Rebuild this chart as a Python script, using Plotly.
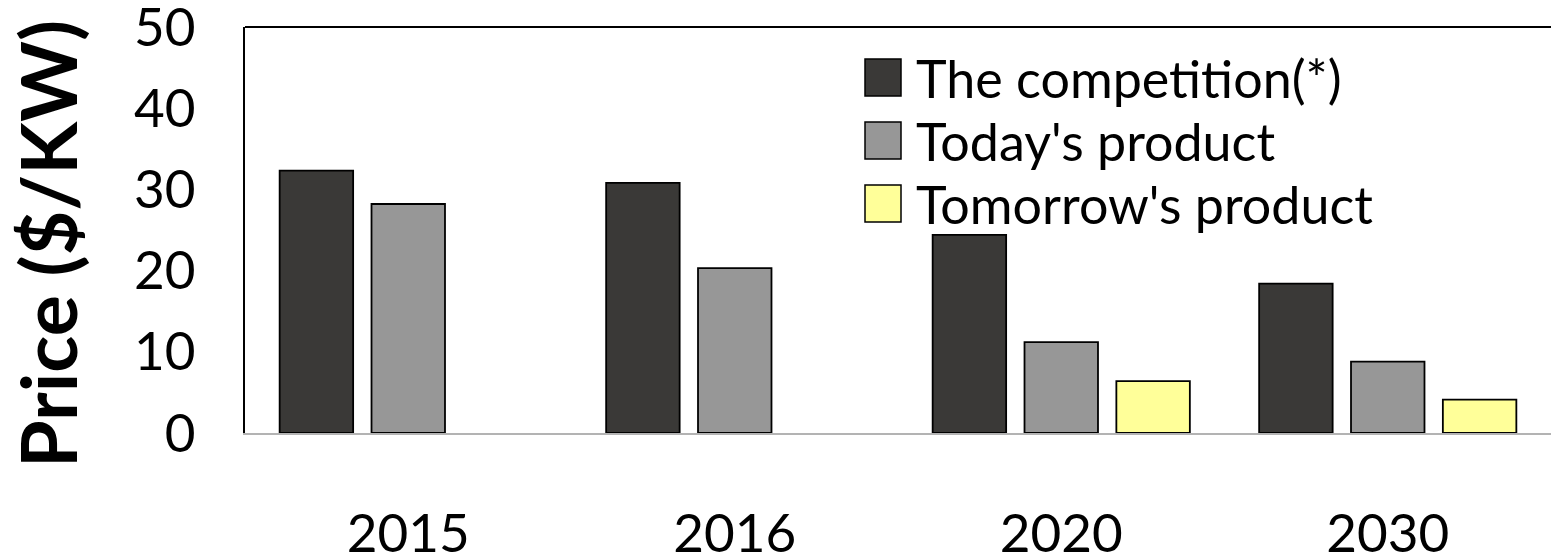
import plotly.graph_objects as go

years = ["2015", "2016", "2020", "2030"]
series_names = ["The competition(*)", "Today's product", "Tomorrow's product"]
competition = [32.3, 30.8, 24.4, 18.4]
today = [28.2, 20.3, 11.2, 8.8]
tomorrow = [None, None, 6.4, 4.1]
colors = ["#3a3937", "#979797", "#ffff99"]
y_ticks = [0, 10, 20, 30, 40, 50]

W, H = 1551, 557
ML, MR, MT, MB = 245, 0, 27, 124
PW, PH = W - ML - MR, H - MT - MB
FONT = "Lato"

def px_x(x):
    return (x - ML) / PW

def px_y(y):
    return (H - MB - y) / PH

fig = go.Figure()
for name, vals, col in zip(series_names, [competition, today, tomorrow], colors):
    fig.add_trace(go.Bar(x=years, y=vals, name=name, marker=dict(color=col, line=dict(color="#000000", width=1.8)),
                         showlegend=False, cliponaxis=False))

shapes = [dict(type="line", xref="paper", yref="paper", x0=0, x1=1, y0=1, y1=1,
               line=dict(color="#000000", width=2))]
annotations = []
for i, (name, col) in enumerate(zip(series_names, colors)):
    top = 59 + 63 * i
    shapes.append(dict(type="rect", xref="paper", yref="paper",
                       x0=px_x(865), x1=px_x(901), y0=px_y(top + 37), y1=px_y(top),
                       fillcolor=col, line=dict(color="#000000", width=1.5)))
    annotations.append(dict(text=name, xref="paper", yref="paper", x=px_x(914), y=px_y(top + 19),
                            xanchor="left", yanchor="middle", showarrow=False,
                            font=dict(family=FONT, size=52, color="#000000")))
annotations.append(dict(text="<b>Price ($/KW)</b>", xref="paper", yref="paper", x=px_x(47), y=px_y(244),
                        xanchor="center", yanchor="middle", textangle=-90, showarrow=False,
                        font=dict(family=FONT, size=77, color="#000000")))

fig.update_layout(
    width=W, height=H,
    margin=dict(l=ML, r=MR, t=MT, b=MB, autoexpand=False),
    paper_bgcolor="white", plot_bgcolor="white",
    barmode="group", bargap=0.156, bargroupgap=0.2,
    shapes=shapes, annotations=annotations,
    font=dict(family=FONT, color="#000000"),
    xaxis=dict(showline=True, linecolor="#b3b3b3", linewidth=2, showgrid=False, ticks="", automargin=False,
               tickfont=dict(family=FONT, size=53), ticklabelstandoff=53, ticklabeloverflow="allow"),
    yaxis=dict(range=[0, 50], tickvals=y_ticks, showline=True, linecolor="#000000", linewidth=2,
               showgrid=False, zeroline=False, ticks="", automargin=False, tickfont=dict(family=FONT, size=53),
               ticklabelstandoff=37, ticklabeloverflow="allow"),
)

fig.write_html("out.html", config={"displayModeBar": False},
               post_script="document.body.style.margin='0';")
